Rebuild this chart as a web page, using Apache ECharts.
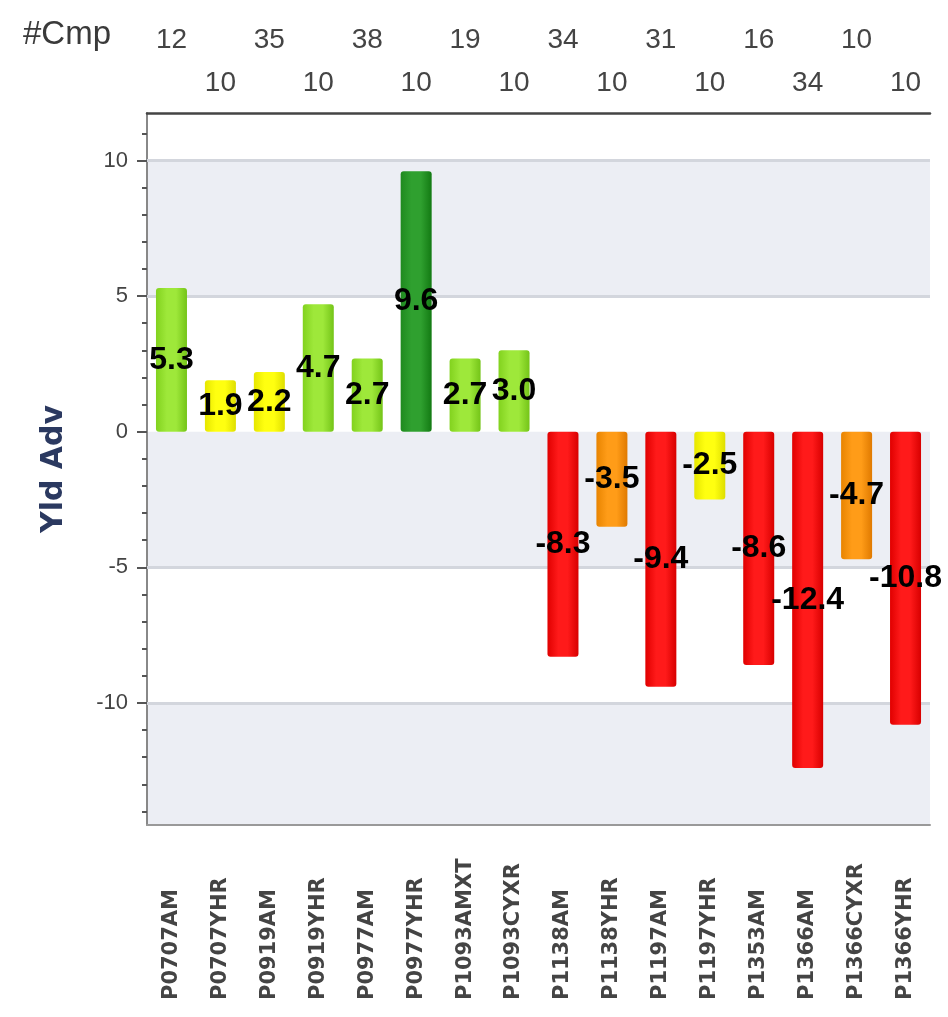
<!DOCTYPE html>
<html><head><meta charset="utf-8">
<script src="https://cdn.jsdelivr.net/npm/echarts@6/dist/echarts.min.js"></script>
<style>html,body{margin:0;padding:0;background:#fff}#c{width:948px;height:1017px}</style>
</head><body><div id="c"></div>
<script>
const categories = ['P0707AM','P0707YHR','P0919AM','P0919YHR','P0977AM','P0977YHR','P1093AMXT','P1093CYXR','P1138AM','P1138YHR','P1197AM','P1197YHR','P1353AM','P1366AM','P1366CYXR','P1366YHR'];
const yldAdv = [5.3,1.9,2.2,4.7,2.7,9.6,2.7,3.0,-8.3,-3.5,-9.4,-2.5,-8.6,-12.4,-4.7,-10.8];
const cmpCounts = [12,10,35,10,38,10,19,10,34,10,31,10,16,34,10,10];
const yLabelValues = [-10,-5,0,5,10];
const yTickValues = [-14,-13,-12,-11,-10,-9,-8,-7,-6,-5,-4,-3,-2,-1,0,1,2,3,4,5,6,7,8,9,10,11];
const bandRanges = [[5,10],[-5,0],[-14.5,-10]];
const refLines = [10,5,-5,-10];

function grad(edge, mid, edge2) {
  return new echarts.graphic.LinearGradient(0,0,1,0,[
    {offset:0,color:edge},{offset:0.35,color:mid},{offset:0.65,color:mid},{offset:1,color:edge2}
  ]);
}
function barColor(v) {
  if (v >= 7.5) return grad('#1f8a1f','#2fa02f','#137a13');
  if (v >= 2.5) return grad('#82d21e','#9ee83a','#74c418');
  if (v >= -2.5) return grad('#e6e600','#ffff10','#dede00');
  if (v >= -5) return grad('#e88400','#ff9c18','#e07a00');
  return grad('#e00000','#ff1a1a','#d80000');
}

const chart = echarts.init(document.getElementById('c'));
chart.setOption({
  animation: false,
  backgroundColor: '#ffffff',
  title: {
    text: '#Cmp', left: 18, top: 13,
    textStyle: {fontFamily: 'Liberation Sans', fontSize: 33, fontWeight: 'normal', color: '#3a3a3a'}
  },
  grid: {left: 147, right: 18, top: 113, bottom: 192, containLabel: false},
  xAxis: [
    {
      type: 'category', data: categories, position: 'bottom',
      axisLine: {onZero: false, lineStyle: {color: '#999', width: 2}},
      axisTick: {alignWithLabel: true, length: 12, lineStyle: {color: '#777'}},
      axisLabel: {
        interval: 0, rotate: 90, align: 'left', verticalAlign: 'middle', margin: 175,
        fontFamily: 'DejaVu Sans', fontWeight: 'bold', fontSize: 21, color: '#444'
      }
    },
    {
      type: 'category', data: categories, position: 'top',
      axisLine: {onZero: false, lineStyle: {color: '#444', width: 2.5}},
      axisTick: {alignWithLabel: true, length: 10, lineStyle: {color: '#444', width: 1.5}},
      axisLabel: {
        interval: 0, margin: 8, lineHeight: 43,
        fontFamily: 'Liberation Sans', fontSize: 28, color: '#444',
        formatter: function (v, i) { return i % 2 === 0 ? cmpCounts[i] + '\n ' : ' \n' + cmpCounts[i]; }
      }
    }
  ],
  yAxis: [
    {
      type: 'value', min: -14.5, max: 11.75,
      name: 'Yld Adv', nameLocation: 'middle', nameRotate: 90, nameGap: 78,
      nameTextStyle: {fontFamily: 'DejaVu Sans', fontWeight: 'bold', fontSize: 30, color: '#2b3960'},
      axisLine: {show: true, lineStyle: {color: '#888', width: 2}},
      axisTick: {show: true, customValues: yTickValues, length: 5, lineStyle: {color: '#555', width: 2}},
      axisLabel: {customValues: yLabelValues, margin: 19, fontFamily: 'Liberation Sans', fontSize: 22, color: '#444'},
      splitLine: {show: false}
    },
    {
      type: 'value', min: -14.5, max: 11.75, position: 'left', offset: 0,
      axisLine: {show: false},
      axisTick: {show: true, customValues: yLabelValues, length: 10, lineStyle: {color: '#555', width: 2}},
      axisLabel: {show: false},
      splitLine: {show: false}
    }
  ],
  series: [{
    type: 'bar',
    z: 3,
    data: yldAdv.map(v => ({value: v, itemStyle: {color: barColor(v)}})),
    barWidth: 31,
    itemStyle: {borderRadius: 3},
    label: {
      show: true, position: 'inside',
      fontFamily: 'Liberation Sans', fontWeight: 'bold', fontSize: 32, color: '#000',
      formatter: p => p.value.toFixed(1)
    },
    markArea: {
      silent: true, z: 0,
      itemStyle: {color: '#eceef4'},
      data: bandRanges.map(r => [{yAxis: r[0]}, {yAxis: r[1]}])
    },
    markLine: {
      silent: true, symbol: 'none', z: 1,
      lineStyle: {color: '#d3d6dd', width: 3, type: 'solid'},
      label: {show: false},
      data: refLines.map(v => ({yAxis: v}))
    }
  }]
});
</script></body></html>
